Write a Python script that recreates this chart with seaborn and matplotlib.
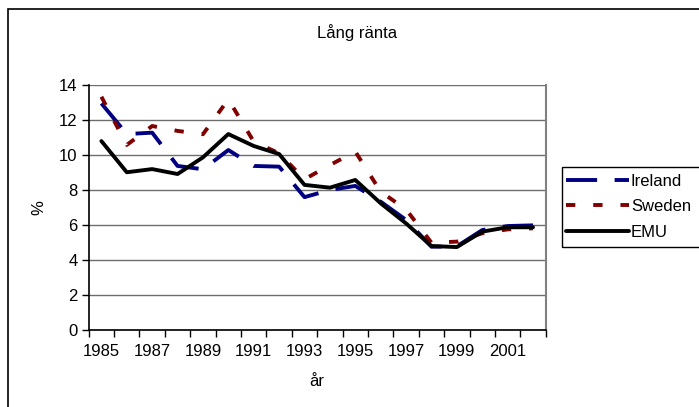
import numpy as np
import pandas as pd
import matplotlib.pyplot as plt
import seaborn as sns
from matplotlib.lines import Line2D
from matplotlib.patches import Rectangle

years = list(range(1985, 2003))
ireland = [12.95, 11.2, 11.28, 9.38, 9.19, 10.29, 9.38, 9.34, 7.6,
           8.01, 8.24, 7.34, 6.3, 4.77, 4.79, 5.72, 5.95, 5.99]
sweden = [13.33, 10.58, 11.66, 11.38, 11.19, 13.18, 10.77, 10.1, 8.62,
          9.43, 10.2, 7.91, 6.9, 5.0, 5.06, 5.54, 5.76, 5.82]
emu = [10.8, 9.02, 9.2, 8.92, 9.87, 11.2, 10.52, 10.06, 8.3,
       8.14, 8.58, 7.25, 6.1, 4.81, 4.75, 5.63, 5.88, 5.88]

series = {"Ireland": ireland, "Sweden": sweden, "EMU": emu}
colors = {"Ireland": "#000080", "Sweden": "#800000", "EMU": "#000000"}
dash_styles = {"Ireland": (8, 4.5), "Sweden": (2.4, 4.6), "EMU": ""}
LW = 2.8

rows = []
for name, vals in series.items():
    for i, v in enumerate(vals):
        rows.append({"pos": i, "year": years[i], "serie": name, "value": v})
df = pd.DataFrame(rows)

sns.set_style("white")
plt.rcParams["font.family"] = ["Liberation Sans", "DejaVu Sans"]
plt.rcParams["text.color"] = "black"
plt.rcParams["xtick.color"] = "black"
plt.rcParams["ytick.color"] = "black"
plt.rcParams["axes.labelcolor"] = "black"
FS = 12

fig = plt.figure(figsize=(6.99, 4.07), dpi=100)
ax = fig.add_axes([88.7 / 699, 1 - 330.3 / 407, (545.7 - 88.7) / 699, (330.3 - 85) / 407])

sns.lineplot(data=df, x="pos", y="value", hue="serie", style="serie",
             palette=colors, dashes=dash_styles, linewidth=LW,
             legend=False, ax=ax, zorder=3)

ax.set_xlim(-0.5, len(years) - 0.5)
ax.set_ylim(0, 14)
ax.set_yticks(np.arange(0, 15, 2))
ax.set_yticklabels([str(v) for v in range(0, 15, 2)], fontsize=FS)
ax.yaxis.grid(True, color="#6e6e6e", linewidth=1)
ax.set_axisbelow(True)

# tick marks on category boundaries, labels in the middle of every other category
ax.set_xticks(np.arange(-0.5, len(years), 1))
ax.set_xticklabels([])
ax.set_xticks(np.arange(0, len(years), 2), minor=True)
ax.set_xticklabels([str(y) for y in years[::2]], minor=True, fontsize=FS)
ax.tick_params(axis="x", which="major", length=5, width=1, direction="out", bottom=True)
ax.tick_params(axis="x", which="minor", length=0, pad=10)
ax.tick_params(axis="y", length=5, width=1, direction="out", left=True, pad=3)

for s in ["left", "bottom"]:
    ax.spines[s].set_color("black")
    ax.spines[s].set_linewidth(1.2)
ax.spines["top"].set_visible(False)
ax.spines["right"].set_color("#808080")
ax.spines["right"].set_linewidth(1.5)

ax.set_xlabel("år", fontsize=FS, labelpad=11)
ax.set_ylabel("%", fontsize=FS, labelpad=9)
fig.text(357 / 699, 1 - 33 / 407, "Lång ränta", ha="center", va="center", fontsize=FS)

# outer chart border
fig.patches.append(Rectangle((8 / 699, -0.1), 1.1, 1 - 9 / 407 + 0.1,
                             transform=fig.transFigure, fill=False,
                             edgecolor="black", linewidth=1.2))

# legend box (runs off the right edge like the original)
fig.patches.append(Rectangle((562 / 699, 1 - 247 / 407), 0.3, 80 / 407,
                             transform=fig.transFigure, fill=False,
                             edgecolor="black", linewidth=1))
handles = []
for n in series:
    h = Line2D([], [], color=colors[n], linewidth=LW)
    if dash_styles[n]:
        h.set_dashes(dash_styles[n])
    handles.append(h)
leg = fig.legend(handles, list(series.keys()), loc="upper left",
                 bbox_to_anchor=(566 / 699, 1 - 174 / 407),
                 frameon=False, fontsize=FS, handlelength=3.8, handletextpad=0.1,
                 borderpad=0, labelspacing=0.62, borderaxespad=0)

fig.savefig("out.png", dpi=100)
